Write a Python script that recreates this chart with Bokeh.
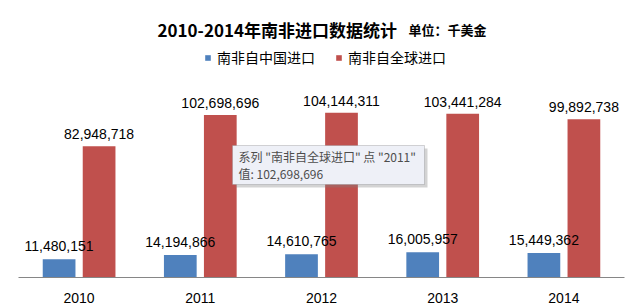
from bokeh.plotting import figure
from bokeh.models import ColumnDataSource, FactorRange, Range1d, Legend, LegendItem, Label, BoxAnnotation
from bokeh.transform import dodge
from bokeh.core.properties import value
from bokeh.embed import file_html
from bokeh.resources import INLINE

years = ["2010", "2011", "2012", "2013", "2014"]
china = [11480151, 14194866, 14610765, 16005957, 15449362]
world = [82948718, 102698696, 104144311, 103441284, 99892738]
series_names = ["南非自中国进口", "南非自全球进口"]
colors = ["#4F81BD", "#C0504D"]
title_text = "2010-2014年南非进口数据统计"
unit_text = "单位：千美金"
tip_line1 = '系列 "南非自全球进口" 点 "2011"'
tip_line2 = "值: 102,698,696"

fmt = lambda v: f"{v:,}"
src = ColumnDataSource(dict(
    years=years, china=china, world=world,
    china_lbl=[fmt(v) for v in china], world_lbl=[fmt(v) for v in world],
))

W, H = 644, 307
FRAME_BOTTOM = 277
PX_PER_UNIT = 1.583e-6
p = figure(width=W, height=H, output_backend="svg", toolbar_location=None,
           x_range=FactorRange(*years, range_padding=0),
           y_range=Range1d(0, FRAME_BOTTOM / PX_PER_UNIT),
           y_axis_location=None,
           min_border_left=18, min_border_right=20, min_border_top=0,
           min_border_bottom=H - FRAME_BOTTOM)
p.outline_line_color = None
p.xgrid.visible = False
p.ygrid.visible = False

NUM_FONT = value("Liberation Sans")
CJK_FONT = "Noto Sans CJK SC"

r1 = p.vbar(x=dodge("years", -0.165, range=p.x_range), top="china", width=0.27,
            source=src, color=colors[0], line_color=None)
r2 = p.vbar(x=dodge("years", 0.165, range=p.x_range), top="world", width=0.27,
            source=src, color=colors[1], line_color=None)

p.text(x=dodge("years", -0.165, range=p.x_range), y="china", text="china_lbl", source=src,
       text_align="center", text_baseline="alphabetic", y_offset=-13,
       text_font=NUM_FONT, text_font_size="14px", text_color="#000000")
p.text(x=dodge("years", 0.165, range=p.x_range), y="world", text="world_lbl", source=src,
       text_align="center", text_baseline="alphabetic", y_offset=-12,
       text_font=NUM_FONT, text_font_size="14px", text_color="#000000")

ax = p.xaxis[0]
ax.axis_line_color = "#868686"
ax.axis_line_width = 1
ax.major_tick_line_color = None
ax.minor_tick_line_color = None
ax.major_label_text_font = "Liberation Sans"
ax.major_label_text_font_size = "14px"
ax.major_label_text_color = "#000000"
ax.major_label_standoff = 9

# title
p.add_layout(Label(x=139, y=FRAME_BOTTOM - 29, x_units="screen", y_units="screen",
                   text=title_text, text_font=CJK_FONT, text_font_size="17px",
                   text_font_style="bold", text_baseline="alphabetic", text_color="#000000"))
p.add_layout(Label(x=390, y=FRAME_BOTTOM - 29, x_units="screen", y_units="screen",
                   text=unit_text, text_font=CJK_FONT, text_font_size="13px",
                   text_font_style="bold", text_baseline="alphabetic", text_color="#000000"))

legend = Legend(items=[LegendItem(label=series_names[0], renderers=[r1]),
                       LegendItem(label=series_names[1], renderers=[r2])],
                orientation="horizontal", location=(186, FRAME_BOTTOM - 67),
                border_line_color=None, background_fill_alpha=0,
                padding=0, margin=0, spacing=20, label_standoff=6,
                glyph_width=7, glyph_height=7,
                label_text_font=CJK_FONT, label_text_font_size="14px",
                label_text_color="#000000")
p.add_layout(legend)

# tooltip box
L, R, T, B = 214, 406, FRAME_BOTTOM - 145, FRAME_BOTTOM - 184
p.add_layout(BoxAnnotation(left=L + 3, right=R + 3, top=T - 3, bottom=B - 3,
                           left_units="screen", right_units="screen",
                           top_units="screen", bottom_units="screen",
                           fill_color="#808080", fill_alpha=0.35, line_color=None))
p.add_layout(BoxAnnotation(left=L, right=R, top=T, bottom=B,
                           left_units="screen", right_units="screen",
                           top_units="screen", bottom_units="screen",
                           fill_color="#eef0f7", fill_alpha=1.0,
                           line_color="#767676", line_width=1))
p.add_layout(Label(x=L + 6, y=FRAME_BOTTOM - 156, x_units="screen", y_units="screen",
                   text=tip_line1, text_font=CJK_FONT, text_font_size="12px",
                   text_baseline="middle", text_color="#4d4d4d"))
p.add_layout(Label(x=L + 6, y=FRAME_BOTTOM - 173, x_units="screen", y_units="screen",
                   text=tip_line2, text_font=CJK_FONT, text_font_size="12px",
                   text_baseline="middle", text_color="#4d4d4d"))

open("out.html", "w").write(file_html(p, INLINE))
